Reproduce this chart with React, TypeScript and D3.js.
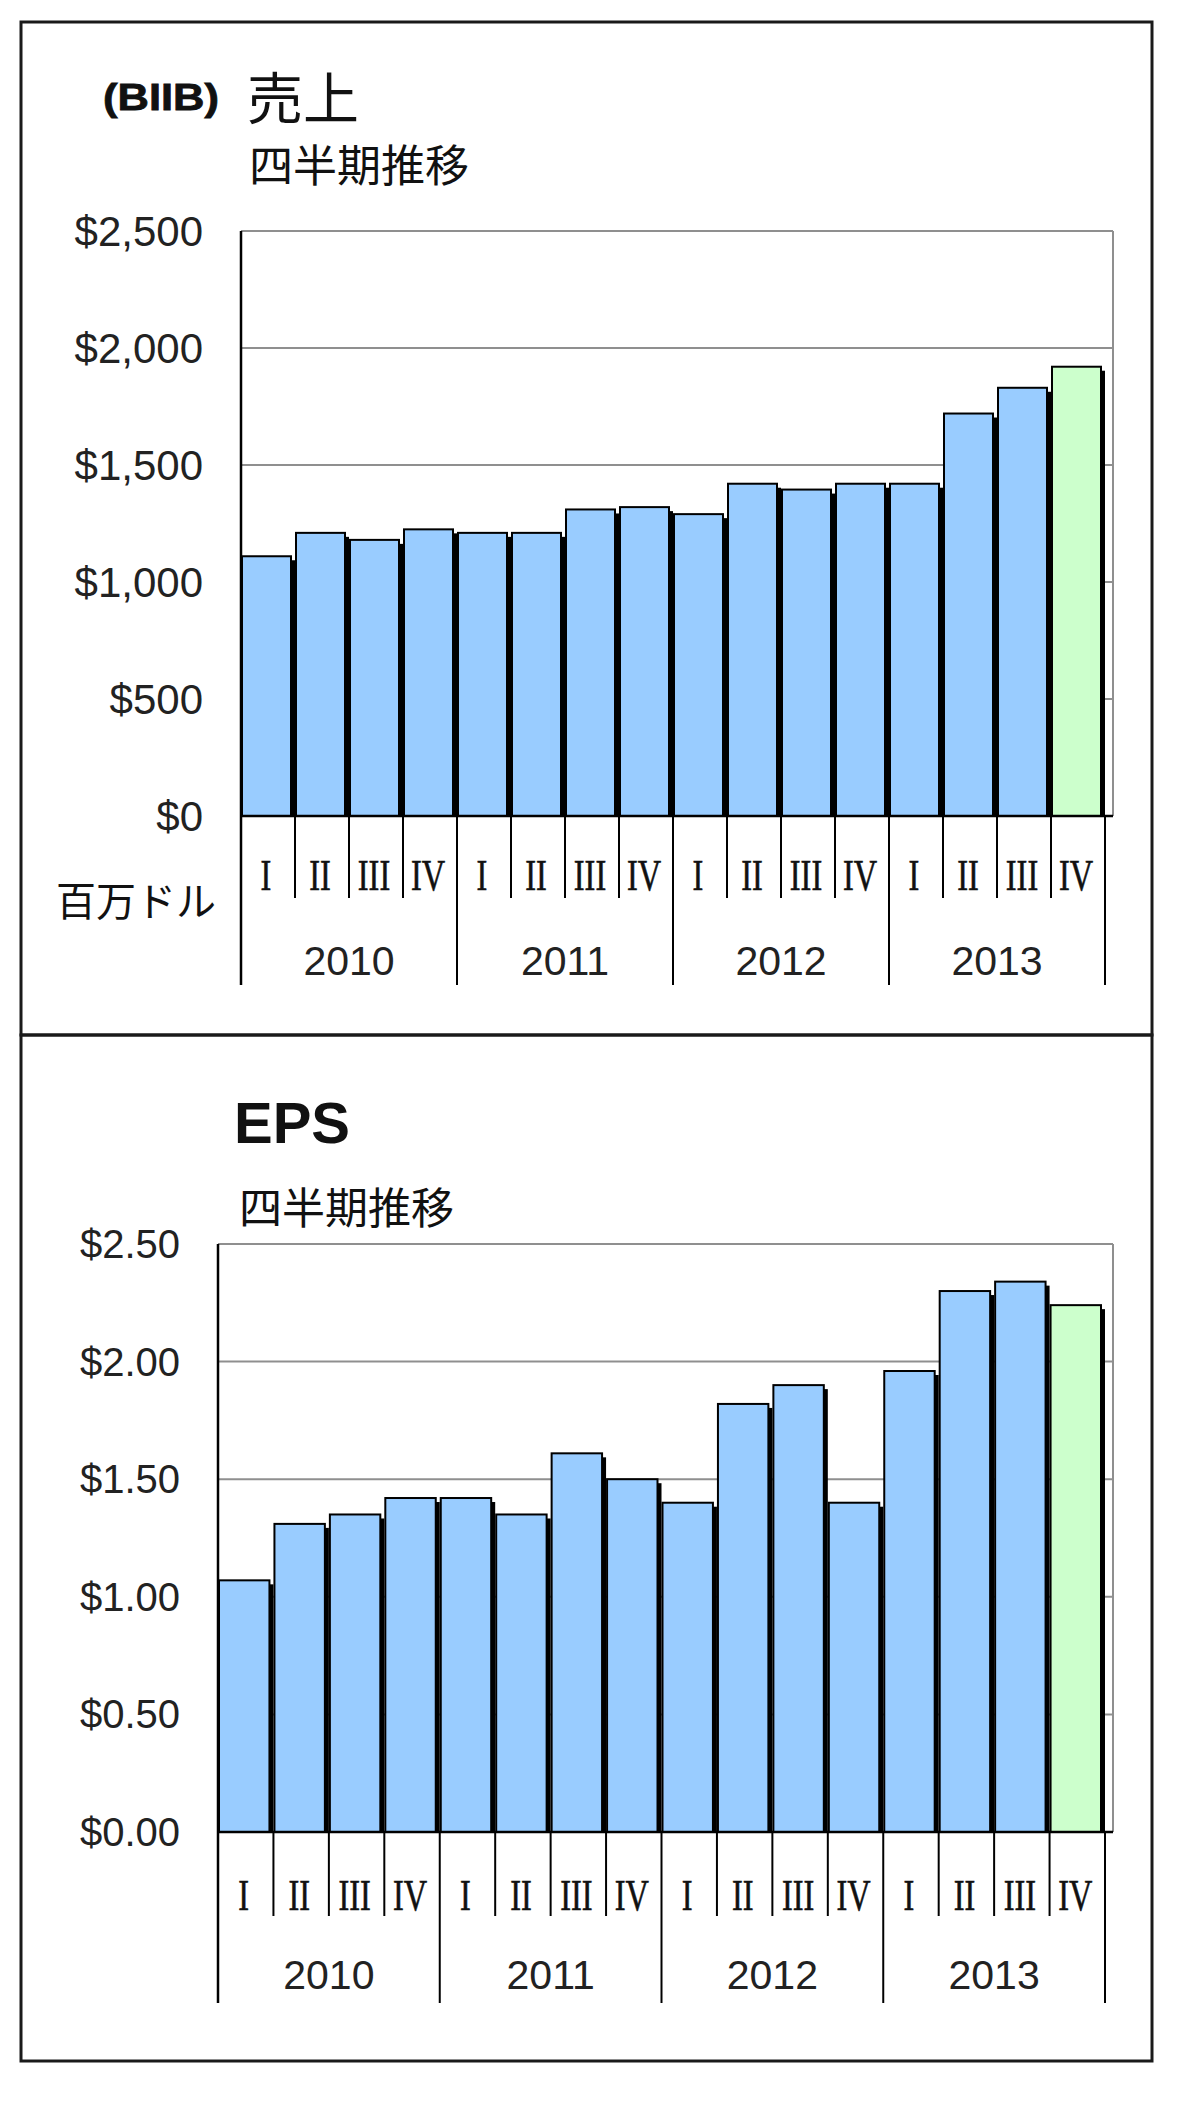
import * as d3 from 'd3';

// quarterly figures, 2010 Q1 .. 2013 Q4 (last quarter = estimate, drawn green)
const YEARS = ['2010', '2011', '2012', '2013'];
const QUARTERS = ['I', 'II', 'III', 'IV'];
const REVENUE = [1110, 1210, 1180, 1225, 1210, 1210, 1310, 1320, 1290, 1420, 1395, 1420, 1420, 1720, 1830, 1920];
const EPS = [1.07, 1.31, 1.35, 1.42, 1.42, 1.35, 1.61, 1.5, 1.4, 1.82, 1.9, 1.4, 1.96, 2.3, 2.34, 2.24];
const ESTIMATE = [false, false, false, false, false, false, false, false, false, false, false, false, false, false, false, true];
const REVENUE_TICKS = [0, 500, 1000, 1500, 2000, 2500];
const EPS_TICKS = [0, 0.5, 1, 1.5, 2, 2.5];

const BLUE = '#99ccff';
const GREEN = '#ccffcc';
const SANS = '"Liberation Sans", Arial, sans-serif';
const JP = '"Noto Sans CJK JP", sans-serif';
const SERIF = '"Liberation Serif", "Times New Roman", serif';

const Panel = (props: any) => {
    const { values, ticks, fmt, dims } = props;
    const keys = values.map((_: any, i: number) => i);
    const x = d3.scaleBand<number>().domain(keys).range([dims.left, dims.bandRight]).padding(0);
    const y = d3.scaleLinear().domain([0, ticks[ticks.length - 1]]).range([dims.base, dims.top]);
    const bw = x.bandwidth();
    const yearScale = d3.scaleBand<string>().domain(YEARS).range([dims.left, dims.bandRight]);

    return (
        <g>
            {/* gridlines */}
            {ticks.filter((t: number) => t > 0).map((t: number) => (
                <line key={'g' + t} x1={dims.left} x2={dims.plotRight} y1={y(t)} y2={y(t)} stroke="#8f8f8f" strokeWidth={2} />
            ))}
            <line x1={dims.plotRight} x2={dims.plotRight} y1={dims.top} y2={dims.base} stroke="#8f8f8f" strokeWidth={2} />

            {/* bars with drop shadow */}
            {values.map((v: number, i: number) => {
                const bx = (x(i) as number) + 1;
                const by = y(v);
                const w = bw - 5;
                return (
                    <g key={'b' + i}>
                        <rect x={bx + 4} y={by + 4} width={w} height={dims.base - by - 4} fill="#000" />
                        <rect x={bx} y={by} width={w} height={dims.base - by} fill={ESTIMATE[i] ? GREEN : BLUE} stroke="#000" strokeWidth={2} />
                    </g>
                );
            })}

            {/* axes */}
            <line x1={dims.left} x2={dims.left} y1={dims.top} y2={dims.yearBottom} stroke="#000" strokeWidth={2.5} />
            <line x1={dims.left} x2={dims.plotRight} y1={dims.base} y2={dims.base} stroke="#000" strokeWidth={2.5} />
            {keys.map((i: number) => {
                const edge = (x(i) as number) + bw;
                const isYear = (i + 1) % 4 === 0;
                return <line key={'t' + i} x1={edge} x2={edge} y1={dims.base} y2={isYear ? dims.yearBottom : dims.quarterBottom} stroke="#000" strokeWidth={2} />;
            })}

            {/* tick labels */}
            {ticks.map((t: number) => (
                <text key={'l' + t} x={dims.labelRight} y={y(t)} dy="0.35em" textAnchor="end" fontFamily={SANS} fontSize={dims.labelSize} fill="#222">{fmt(t)}</text>
            ))}
            {keys.map((i: number) => {
                const cx = (x(i) as number) + bw / 2 - 2;
                return (
                    <text key={'q' + i} transform={`translate(${cx},${dims.quarterY}) scale(0.72,1)`} dy="0.34em" textAnchor="middle" fontFamily={SERIF} fontSize={45} fill="#111" stroke="#111" strokeWidth={0.6}>{QUARTERS[i % 4]}</text>
                );
            })}
            {YEARS.map((yr) => (
                <text key={yr} x={(yearScale(yr) as number) + yearScale.bandwidth() / 2} y={dims.yearY} dy="0.35em" textAnchor="middle" fontFamily={SANS} fontSize={41} fill="#222">{yr}</text>
            ))}
        </g>
    );
};

export default function App() {
    const revDims = { left: 241, bandRight: 1105, plotRight: 1113, top: 231, base: 816, quarterBottom: 898, yearBottom: 985, quarterY: 875, yearY: 961, labelRight: 203, labelSize: 42 };
    const epsDims = { left: 218, bandRight: 1105, plotRight: 1113, top: 1244, base: 1832, quarterBottom: 1916, yearBottom: 2003, quarterY: 1895, yearY: 1975, labelRight: 180, labelSize: 40 };

    return (
        <svg width={1200} height={2107} style={{ position: 'absolute', left: 0, top: 0, background: '#fff' }}>
            <rect x={0} y={0} width={1200} height={2107} fill="#fff" />
            <rect x={21} y={22} width={1131} height={1013} fill="none" stroke="#1a1a1a" strokeWidth={3} />
            <rect x={21} y={1035} width={1131} height={1026} fill="none" stroke="#1a1a1a" strokeWidth={3} />

            {/* revenue panel */}
            <text x={103} y={110} fontFamily={SANS} fontWeight="bold" fontSize={37} textLength={116} lengthAdjust="spacingAndGlyphs" fill="#111" stroke="#111" strokeWidth={0.8}>(BIIB)</text>
            <text x={247} y={119} fontFamily={JP} fontSize={56} fill="#111">売上</text>
            <text x={249} y={182} fontFamily={JP} fontSize={44} fill="#111">四半期推移</text>
            <text x={56} y={916} fontFamily={JP} fontSize={40} fill="#111">百万ドル</text>
            <Panel values={REVENUE} ticks={REVENUE_TICKS} fmt={d3.format('$,.0f')} dims={revDims} />

            {/* EPS panel */}
            <text x={234} y={1143} fontFamily={SANS} fontWeight="bold" fontSize={58} fill="#111">EPS</text>
            <text x={239} y={1224} fontFamily={JP} fontSize={43} fill="#111">四半期推移</text>
            <Panel values={EPS} ticks={EPS_TICKS} fmt={d3.format('$.2f')} dims={epsDims} />
        </svg>
    );
}
